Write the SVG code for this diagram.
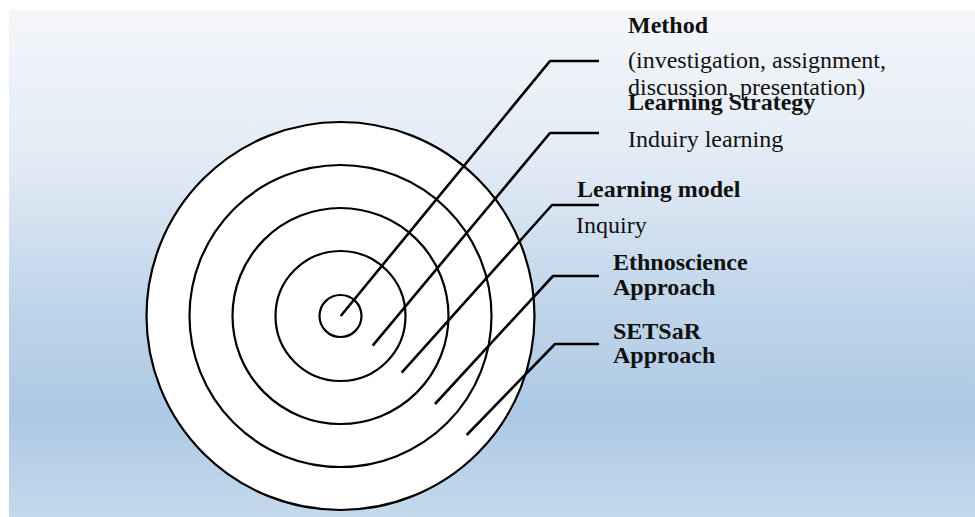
<svg xmlns="http://www.w3.org/2000/svg" width="975" height="517" viewBox="0 0 975 517">
  <defs>
    <linearGradient id="bg" x1="0" y1="0" x2="0" y2="1">
      <stop offset="0" stop-color="#f5f6fa"/>
      <stop offset="0.3" stop-color="#e2ebf5"/>
      <stop offset="0.55" stop-color="#c3d7eb"/>
      <stop offset="0.8" stop-color="#adc8e4"/>
      <stop offset="1" stop-color="#c5d9ec"/>
    </linearGradient>
    <style>
      .ring { fill: #ffffff; stroke: #000000; stroke-width: 2.2; }
      .conn { fill: none; stroke: #000000; stroke-width: 2.6; stroke-linejoin: round; stroke-linecap: butt; }
      .t { font-family: "Liberation Serif", "Times New Roman", serif; font-size: 24px; fill: #111111; }
      .b { font-weight: bold; }
    </style>
  </defs>
  <rect x="0" y="0" width="975" height="517" fill="#ffffff"/>
  <rect x="9" y="10" width="966" height="507" fill="url(#bg)"/>

  <g id="ring-setsar">
    <circle class="ring" cx="340.5" cy="316" r="194"/>
  </g>
  <g id="ring-ethnoscience">
    <circle class="ring" cx="340.5" cy="316" r="151"/>
  </g>
  <g id="ring-model">
    <circle class="ring" cx="340.5" cy="316" r="108"/>
  </g>
  <g id="ring-strategy">
    <circle class="ring" cx="340.5" cy="316" r="65"/>
  </g>
  <g id="ring-method">
    <circle class="ring" cx="340.5" cy="316" r="21"/>
  </g>

  <g id="connectors">
    <polyline class="conn" points="340.7,316 550,61 599,61"/>
    <polyline class="conn" points="372.7,345.7 550,133 599,133"/>
    <polyline class="conn" points="401.7,372.7 552,205 599,205"/>
    <polyline class="conn" points="435,404 553,276 599,276"/>
    <polyline class="conn" points="466.7,435 555,344 599,344"/>
  </g>

  <g id="label-method">
    <text class="t b" x="628" y="33">Method</text>
    <text class="t" x="628" y="68">(investigation, assignment,</text>
    <text class="t" x="628" y="95">discussion, presentation)</text>
  </g>
  <g id="label-strategy">
    <text class="t b" x="628" y="110">Learning Strategy</text>
    <text class="t" x="628" y="147">Induiry learning</text>
  </g>
  <g id="label-model">
    <text class="t b" x="577" y="197">Learning model</text>
    <text class="t" x="576" y="233">Inquiry</text>
  </g>
  <g id="label-ethnoscience">
    <text class="t b" x="613" y="270">Ethnoscience</text>
    <text class="t b" x="613" y="295">Approach</text>
  </g>
  <g id="label-setsar">
    <text class="t b" x="613" y="339">SETSaR</text>
    <text class="t b" x="613" y="363">Approach</text>
  </g>
</svg>
